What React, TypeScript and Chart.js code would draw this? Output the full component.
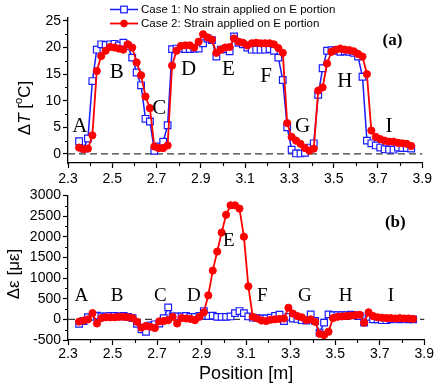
import React, { useEffect, useRef } from "react";
import { Chart, registerables } from "chart.js";

Chart.register(...registerables);

// ---------------- data ----------------
const positions = [
  2.35, 2.37, 2.39, 2.41, 2.43, 2.45, 2.47, 2.49, 2.51, 2.53,
  2.55, 2.57, 2.59, 2.61, 2.63, 2.65, 2.67, 2.69, 2.71, 2.73,
  2.75, 2.77, 2.79, 2.81, 2.83, 2.85, 2.87, 2.89, 2.91, 2.93,
  2.95, 2.97, 2.99, 3.01, 3.03, 3.05, 3.07, 3.09, 3.11, 3.13,
  3.15, 3.17, 3.19, 3.21, 3.23, 3.25, 3.27, 3.29, 3.31, 3.33,
  3.35, 3.37, 3.39, 3.41, 3.43, 3.45, 3.47, 3.49, 3.51, 3.53,
  3.55, 3.57, 3.59, 3.61, 3.63, 3.65, 3.67, 3.69, 3.71, 3.73,
  3.75, 3.77, 3.79, 3.81, 3.83, 3.85,
];

// (a) temperature change, case 1 (no strain) and case 2 (strain on E)
const deltaTCase1 = [
  2.4, 1.0, 2.9, 13.7, 19.6, 20.6, 20.5, 20.6, 20.7, 20.4,
  20.9, 20.3, 18.1, 15.3, 12.9, 6.6, 6.1, 0.6, 1.4, 2.3,
  5.4, 19.7, 19.8, 19.8, 19.7, 19.7, 19.8, 19.8, 20.8, 21.7,
  21.4, 18.3, 19.6, 19.7, 19.3, 22.1, 20.9, 20.6, 20.0, 19.6,
  19.6, 19.6, 19.6, 19.7, 19.4, 18.1, 13.9, 5.0, 0.8, 0.1,
  0.1, 0.2, 1.2, 2.0, 11.1, 16.1, 19.4, 19.5, 19.4, 19.2,
  19.3, 19.2, 19.0, 18.3, 14.5, 2.5, 2.0, 1.6, 1.2, 0.9,
  0.8, 0.8, 1.2, 1.1, 1.1, 1.0,
];
const deltaTCase2 = [
  1.2, 0.9, 1.0, 3.5, 15.6, 18.4, 19.4, 20.1, 20.0, 19.8,
  19.6, 20.6, 20.0, 17.2, 14.8, 10.8, 8.6, 1.4, 1.1, 1.1,
  1.6, 16.6, 19.4, 20.3, 20.4, 20.4, 20.0, 21.1, 22.5, 21.9,
  21.5, 19.0, 19.6, 20.0, 20.1, 21.7, 21.1, 20.9, 20.4, 20.8,
  20.9, 20.8, 20.8, 20.8, 20.6, 19.9, 19.0, 5.8, 3.2, 2.5,
  1.9, 1.1, 0.6, 1.0, 11.9, 12.5, 17.0, 19.2, 19.6, 19.8,
  19.6, 19.5, 19.3, 18.8, 18.3, 15.0, 4.4, 3.2, 2.8, 2.5,
  2.3, 2.3, 2.1, 2.0, 1.9, 1.5,
];

// (b) strain change
const strainCase1 = [
  -110, -40, 50, 60, 90, 70, 70, 80, 80, 70,
  80, 60, 30, -110, -240, -300, -150, -120, -100, 30,
  290, 70, 70, 70, 80, 60, 60, 80, 200, 80,
  90, 60, 60, 60, 70, 150, 200, 150, 70, 40,
  30, 20, 20, 40, 80, 110, -40, 60, 20, 10,
  -20, -30, 120, -40, -320, -80, 120, 100, 100, 100,
  100, 110, 100, 80, -80, 60, 0, 0, -20, -20,
  0, 10, 0, 10, 0, 0,
];
const strainCase2 = [
  -55, -30, 0, 150, -100, 30, 50, 50, 50, 60,
  60, 50, 30, -60, -200, -160, -180, -210, -50, -40,
  -20, 60, -100, 30, 20, 10, -20, 60, 170, 580,
  1180, 1640, 2100, 2530, 2760, 2760, 2680, 2000, 800, 60,
  20, -30, -40, -10, 0, 10, 20, 280, 140, 80,
  50, -20, 0, -60, -350, -380, -300, 30, 60, 70,
  80, 90, 100, 110, -80, 170, 80, 50, 40, 30,
  30, 20, 30, 20, 20, 10,
];

const xTickValues = [2.3, 2.4, 2.5, 2.6, 2.7, 2.8, 2.9, 3.0, 3.1, 3.2, 3.3, 3.4, 3.5, 3.6, 3.7, 3.8, 3.9];
const xLabelValues = [2.3, 2.5, 2.7, 2.9, 3.1, 3.3, 3.5, 3.7, 3.9];
const topYTickValues = [0, 2.5, 5, 7.5, 10, 12.5, 15, 17.5, 20, 22.5, 25];
const topYLabelValues = [0, 5, 10, 15, 20, 25];
const bottomYTickValues = [-500, -250, 0, 250, 500, 750, 1000, 1250, 1500, 1750, 2000, 2250, 2500, 2750, 3000];
const bottomYLabelValues = [-500, 0, 500, 1000, 1500, 2000, 2500, 3000];

const legendLabels = ["Case 1: No strain applied on E portion", "Case 2: Strain applied on E portion"];
const regionLetters = ["A", "B", "C", "D", "E", "F", "G", "H", "I"];
const topLetterX = [2.354, 2.52, 2.712, 2.845, 3.025, 3.195, 3.36, 3.55, 3.75];
const topLetterY = [5.1, 15.4, 8.6, 15.8, 15.8, 14.6, 5.1, 13.6, 5.1];
const bottomLetterX = [2.36, 2.52, 2.715, 2.865, 3.022, 3.172, 3.364, 3.547, 3.75];
const bottomLetterY = [555, 555, 555, 555, 1900, 555, 555, 555, 555];

// ---------------- styling ----------------
const SANS = '"Liberation Sans", Arial, sans-serif';
const SERIF = '"Liberation Serif", "Times New Roman", serif';
const BLUE = "#1a1aff";
const RED = "#ff0000";

type Seg = { t: string; s: "n" | "i" | "sup" };

type PanelSpec = {
  padTop: number;
  xAxisHeight: number;
  yMin: number;
  yMax: number;
  yTicks: number[];
  yLabels: number[];
  case1: number[];
  case2: number[];
  letterX: number[];
  letterY: number[];
  letterSize: number;
  panelLabel: string;
  panelX: number;
  panelY: number;
  yTitle: Seg[];
  yTitleX: number;
  yTitleY: number;
  legend: boolean;
  xTitle: string | null;
  xTitleY: number;
  labelPad: number;
};

function near(list: number[], v: any) {
  if (typeof v !== "number") return false;
  return list.some((x) => Math.abs(x - v) < 1e-6);
}

function drawSquare(ctx: CanvasRenderingContext2D, x: number, y: number, half: number) {
  ctx.fillStyle = "#fff";
  ctx.fillRect(x - half, y - half, half * 2, half * 2);
  ctx.strokeStyle = BLUE;
  ctx.lineWidth = 1.2;
  ctx.strokeRect(x - half, y - half, half * 2, half * 2);
}

function buildPanel(canvas: HTMLCanvasElement, spec: PanelSpec) {
  const decor = {
    id: "decor",
    beforeDatasetsDraw(chart: any) {
      const { ctx, chartArea, scales } = chart;
      const y0 = scales.y.getPixelForValue(0);
      ctx.save();
      ctx.strokeStyle = "#3a3a3a";
      ctx.lineWidth = 1.3;
      ctx.setLineDash([7, 4]);
      ctx.beginPath();
      ctx.moveTo(chartArea.left, y0);
      ctx.lineTo(chartArea.right, y0);
      ctx.stroke();
      ctx.restore();
    },
    afterDraw(chart: any) {
      const { ctx, chartArea, scales } = chart;
      const xs = scales.x;
      const ys = scales.y;
      ctx.save();
      // minor ticks
      ctx.strokeStyle = "#000";
      ctx.lineWidth = 1.1;
      ctx.beginPath();
      xTickValues.forEach((v) => {
        if (near(xLabelValues, v)) return;
        const px = Math.round(xs.getPixelForValue(v)) + 0.5;
        ctx.moveTo(px, chartArea.bottom);
        ctx.lineTo(px, chartArea.bottom + 3);
      });
      spec.yTicks.forEach((v) => {
        if (near(spec.yLabels, v)) return;
        const py = Math.round(ys.getPixelForValue(v)) + 0.5;
        ctx.moveTo(chartArea.left, py);
        ctx.lineTo(chartArea.left - 3, py);
      });
      ctx.stroke();

      // region letters
      ctx.fillStyle = "#000";
      ctx.textAlign = "center";
      ctx.textBaseline = "middle";
      ctx.font = `${spec.letterSize}px ${SERIF}`;
      regionLetters.forEach((L, i) => {
        ctx.fillText(L, xs.getPixelForValue(spec.letterX[i]), ys.getPixelForValue(spec.letterY[i]));
      });
      // panel label
      ctx.font = `bold 17px ${SERIF}`;
      ctx.fillText(spec.panelLabel, xs.getPixelForValue(spec.panelX), ys.getPixelForValue(spec.panelY));

      // y title (rotated rich text)
      ctx.save();
      ctx.translate(spec.yTitleX, spec.yTitleY);
      ctx.rotate(-Math.PI / 2);
      ctx.textAlign = "left";
      ctx.textBaseline = "middle";
      const fontFor = (s: Seg["s"]) =>
        s === "i" ? `italic 17px ${SANS}` : s === "sup" ? `11px ${SANS}` : `17px ${SANS}`;
      let total = 0;
      spec.yTitle.forEach((seg) => {
        ctx.font = fontFor(seg.s);
        total += ctx.measureText(seg.t).width;
      });
      let cx = -total / 2;
      spec.yTitle.forEach((seg) => {
        ctx.font = fontFor(seg.s);
        ctx.fillText(seg.t, cx, seg.s === "sup" ? -6 : 0);
        cx += ctx.measureText(seg.t).width;
      });
      ctx.restore();

      // x title
      if (spec.xTitle) {
        ctx.font = `18px ${SANS}`;
        ctx.textAlign = "center";
        ctx.textBaseline = "middle";
        ctx.fillText(spec.xTitle, (chartArea.left + chartArea.right) / 2, spec.xTitleY);
      }

      // legend
      if (spec.legend) {
        const rows = [9.5, 23.5];
        rows.forEach((ry, k) => {
          ctx.strokeStyle = k === 0 ? BLUE : RED;
          ctx.lineWidth = k === 0 ? 1.5 : 1.8;
          ctx.beginPath();
          ctx.moveTo(110, ry);
          ctx.lineTo(138, ry);
          ctx.stroke();
          if (k === 0) {
            drawSquare(ctx, 124, ry, 3.3);
          } else {
            ctx.fillStyle = RED;
            ctx.beginPath();
            ctx.arc(124, ry, 3.7, 0, Math.PI * 2);
            ctx.fill();
          }
          ctx.fillStyle = "#000";
          ctx.font = `11.5px ${SANS}`;
          ctx.textAlign = "left";
          ctx.textBaseline = "middle";
          ctx.fillText(legendLabels[k], 141, ry + 0.5);
        });
      }
      ctx.restore();
    },
  };

  return new Chart(canvas, {
    type: "line",
    data: {
      datasets: [
        {
          label: legendLabels[1],
          data: positions.map((x, i) => ({ x, y: spec.case2[i] })),
          borderColor: RED,
          backgroundColor: RED,
          pointBackgroundColor: RED,
          pointBorderColor: RED,
          pointStyle: "circle",
          pointRadius: 3.6,
          pointBorderWidth: 1,
          borderWidth: 1.8,
          tension: 0,
          order: 0,
        },
        {
          label: legendLabels[0],
          data: positions.map((x, i) => ({ x, y: spec.case1[i] })),
          borderColor: BLUE,
          backgroundColor: "#fff",
          pointBackgroundColor: "#fff",
          pointBorderColor: BLUE,
          pointStyle: "rect",
          pointRadius: 4.7,
          pointBorderWidth: 1.2,
          borderWidth: 1.5,
          tension: 0,
          order: 1,
        },
      ],
    },
    options: {
      responsive: false,
      animation: false,
      events: [],
      layout: { padding: { top: spec.padTop, right: 10, left: 0, bottom: 0 } },
      plugins: {
        legend: { display: false },
        tooltip: { enabled: false },
        title: { display: false },
      },
      scales: {
        x: {
          type: "linear",
          min: 2.3,
          max: 3.9,
          afterBuildTicks: (s: any) => {
            s.ticks = xTickValues.map((v) => ({ value: v }));
          },
          afterFit: (s: any) => {
            s.height = spec.xAxisHeight;
          },
          ticks: {
            autoSkip: false,
            maxRotation: 0,
            minRotation: 0,
            padding: spec.labelPad,
            color: "#000",
            font: { family: SANS, size: 14 },
            callback: (v: any) => (near(xLabelValues, Number(v)) ? Number(v).toFixed(1) : ""),
          },
          grid: {
            drawOnChartArea: false,
            drawTicks: true,
            tickLength: 5,
            tickWidth: 1.2,
            tickColor: (c: any) => (near(xLabelValues, c?.tick?.value) ? "#000" : "rgba(0,0,0,0)"),
          },
          border: { display: true, color: "#000", width: 1.3 },
        },
        y: {
          type: "linear",
          min: spec.yMin,
          max: spec.yMax,
          afterBuildTicks: (s: any) => {
            s.ticks = spec.yTicks.map((v) => ({ value: v }));
          },
          afterFit: (s: any) => {
            s.width = 68;
          },
          ticks: {
            autoSkip: false,
            padding: 2,
            color: "#000",
            font: { family: SANS, size: 14 },
            callback: (v: any) => (near(spec.yLabels, Number(v)) ? String(v) : ""),
          },
          grid: {
            drawOnChartArea: false,
            drawTicks: true,
            tickLength: 5,
            tickWidth: 1.2,
            tickColor: (c: any) => (near(spec.yLabels, c?.tick?.value) ? "#000" : "rgba(0,0,0,0)"),
          },
          border: { display: true, color: "#000", width: 1.3 },
        },
      },
    },
    plugins: [decor],
  } as any);
}

export default function App() {
  const topRef = useRef<HTMLCanvasElement | null>(null);
  const bottomRef = useRef<HTMLCanvasElement | null>(null);

  useEffect(() => {
    if (!topRef.current || !bottomRef.current) return;
    const top = buildPanel(topRef.current, {
      padTop: 18,
      xAxisHeight: 22,
      yMin: -1.7,
      yMax: 25.55,
      yTicks: topYTickValues,
      yLabels: topYLabelValues,
      case1: deltaTCase1,
      case2: deltaTCase2,
      letterX: topLetterX,
      letterY: topLetterY,
      letterSize: 21,
      panelLabel: "(a)",
      panelX: 3.765,
      panelY: 21.3,
      yTitle: [
        { t: "\u0394", s: "n" },
        { t: "T", s: "i" },
        { t: " [", s: "n" },
        { t: "o", s: "sup" },
        { t: "C]", s: "n" },
      ],
      yTitleX: 25,
      yTitleY: 108,
      legend: true,
      xTitle: null,
      xTitleY: 0,
      labelPad: 3,
    });
    const bottom = buildPanel(bottomRef.current, {
      padTop: 9,
      xAxisHeight: 50,
      yMin: -500,
      yMax: 3000,
      yTicks: bottomYTickValues,
      yLabels: bottomYLabelValues,
      case1: strainCase1,
      case2: strainCase2,
      letterX: bottomLetterX,
      letterY: bottomLetterY,
      letterSize: 19,
      panelLabel: "(b)",
      panelX: 3.77,
      panelY: 2340,
      yTitle: [{ t: "\u0394\u03b5 [\u03bc\u03b5]", s: "n" }],
      yTitleX: 14,
      yTitleY: 89,
      legend: false,
      xTitle: "Position [m]",
      xTitleY: 189,
      labelPad: 1,
    });
    return () => {
      top.destroy();
      bottom.destroy();
    };
  }, []);

  return (
    <div style={{ position: "absolute", left: 0, top: 0, width: 435, height: 390, background: "#fff" }}>
      <canvas ref={topRef} width={435} height={185} style={{ position: "absolute", left: 0, top: 0, display: "block" }} />
      <canvas ref={bottomRef} width={435} height={205} style={{ position: "absolute", left: 0, top: 185, display: "block" }} />
    </div>
  );
}
